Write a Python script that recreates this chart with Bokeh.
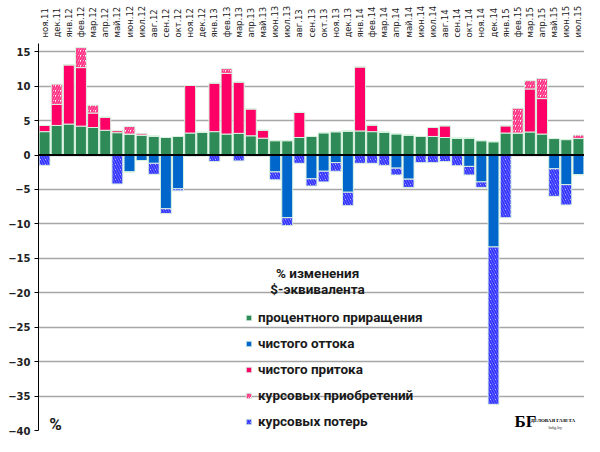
import numpy as np
from bokeh.plotting import figure
from bokeh.models import Range1d, Span, Label, Legend, LegendItem, FixedTicker
from bokeh.embed import file_html
from bokeh.resources import INLINE

months = ["ноя.11", "дек.11", "янв.12", "фев.12", "мар.12", "апр.12", "май.12", "июн.12",
          "июл.12", "авг.12", "сен.12", "окт.12", "ноя.12", "дек.12", "янв.13", "фев.13",
          "мар.13", "апр.13", "май.13", "июн.13", "июл.13", "авг.13", "сен.13", "окт.13",
          "ноя.13", "дек.13", "янв.14", "фев.14", "мар.14", "апр.14", "май.14", "июн.14",
          "июл.14", "авг.14", "сен.14", "окт.14", "ноя.14", "дек.14", "янв.15", "фев.15",
          "мар.15", "апр.15", "май.15", "июн.15", "июл.15"]

# процентное приращение
interest = [3.4, 4.3, 4.5, 4.2, 4.0, 3.6, 3.25, 3.05, 2.9, 2.75, 2.55, 2.7, 3.2, 3.3, 3.4,
            3.05, 3.15, 2.8, 2.45, 2.1, 2.1, 2.55, 2.7, 3.25, 3.4, 3.5, 3.5, 3.4, 3.35,
            3.1, 2.9, 2.7, 2.7, 2.55, 2.45, 2.45, 2.1, 1.95, 3.2, 3.2, 3.35, 3.05, 2.4,
            2.25, 2.4]
# чистый приток
inflow = [0.9, 3.05, 8.6, 8.5, 2.1, 1.9, 0.3, 0, 0, 0, 0, 0, 6.9, 0, 7.05,
          8.8, 7.45, 3.9, 1.15, 0, 0, 3.65, 0, 0, 0, 0, 9.3, 0.95, 0,
          0, 0, 0, 1.3, 1.7, 0, 0, 0, 0, 1.05, 0, 6.25, 5.15, 0,
          0, 0]
# курсовые приобретения
gains = [0, 2.95, 0, 2.9, 1.15, 0, 0, 1.1, 0.25, 0, 0, 0, 0, 0, 0,
         0.7, 0, 0, 0, 0, 0, 0, 0, 0, 0, 0, 0, 0, 0,
         0, 0, 0, 0, 0, 0, 0, 0, 0, 0, 3.6, 1.2, 2.9, 0,
         0, 0.5]
# чистый отток
outflow = [0, 0, 0, 0, 0, 0, 0, 2.45, 0.8, 1.2, 7.8, 4.9, 0, 0, 0,
           0, 0, 0, 0, 2.45, 9.1, 0, 3.45, 2.35, 1.1, 5.4, 0, 0, 0,
           1.9, 3.5, 0, 0, 0, 0, 1.65, 3.9, 13.35, 0, 0, 0, 0, 2.0,
           4.3, 2.85]
# курсовые потери
losses = [1.5, 0, 0, 0, 0, 0.2, 4.2, 0, 0, 1.6, 0.7, 0.3, 0.2, 0, 0.95,
          0, 0.85, 0, 0, 1.15, 1.15, 1.2, 1.05, 1.55, 1.25, 1.95, 1.2, 1.2, 1.5,
          1.0, 1.2, 1.1, 1.1, 0.95, 1.55, 1.25, 0.8, 22.85, 9.1, 0, 0, 0, 4.0,
          2.95, 0]

GREEN = "#2e8b57"
BLUE = "#0066cc"
PINK = "#ff0066"
PINK_H = "#ff3385"
BLUE_H = "#3333ff"
EDGE = "#d9f2e0"

x = np.arange(len(months))
g = np.array(interest)
pi_ = g + np.array(inflow)
pg = pi_ + np.array(gains)
no = -np.array(outflow)
nl = no - np.array(losses)

p = figure(width=584, height=436, x_range=Range1d(-0.5, len(months) - 0.5),
           y_range=Range1d(-40, 16.2), x_axis_location="above",
           output_backend="svg", toolbar_location=None,
           min_border_left=38, min_border_right=0, min_border_top=43, min_border_bottom=6)
p.outline_line_color = None
p.background_fill_color = "white"

w = 0.9
r_green = p.vbar(x=x, bottom=0, top=g, width=w, fill_color=GREEN, line_color=EDGE)
r_in = p.vbar(x=x, bottom=g, top=pi_, width=w, fill_color=PINK, line_color=EDGE)
r_gain = p.vbar(x=x, bottom=pi_, top=pg, width=w, fill_color="white", line_color=EDGE,
                hatch_pattern="/", hatch_color=PINK_H, hatch_scale=5, hatch_weight=2)
r_out = p.vbar(x=x, bottom=no, top=0, width=w, fill_color=BLUE, line_color=EDGE)
r_loss = p.vbar(x=x, bottom=nl, top=no, width=w, fill_color="white", line_color=EDGE,
                hatch_pattern="\\", hatch_color=BLUE_H, hatch_scale=5, hatch_weight=2)

p.add_layout(Span(location=0, dimension="width", line_color="black", line_width=2))

# axes
xa = p.xaxis[0]
xa.ticker = FixedTicker(ticks=list(x))
xa.major_label_overrides = {int(i): m for i, m in zip(x, months)}
xa.major_label_orientation = "vertical"
xa.major_label_text_font = "DejaVu Sans"
xa.major_label_text_font_size = "8.5px"
xa.major_label_text_color = "#222222"
xa.major_label_standoff = 0
xa.axis_line_color = None
xa.major_tick_line_color = None
xa.minor_tick_line_color = None

ya = p.yaxis[0]
ya.ticker = FixedTicker(ticks=list(range(-40, 16, 5)))
ya.major_label_text_font = "DejaVu Sans"
ya.major_label_text_font_style = "bold"
ya.major_label_text_font_size = "10px"
ya.major_label_text_color = "#222222"
ya.major_label_standoff = 4
ya.major_tick_out = 4
ya.major_tick_in = 0
ya.minor_tick_line_color = None
ya.axis_line_color = "black"
ya.major_tick_line_color = "black"

p.xgrid.grid_line_color = None
p.ygrid.grid_line_color = "#a6a6a6"
p.ygrid.grid_line_width = 1.5

# legend
legend = Legend(items=[
    LegendItem(label="процентного приращения", renderers=[r_green]),
    LegendItem(label="чистого оттока", renderers=[r_out]),
    LegendItem(label="чистого притока", renderers=[r_in]),
    LegendItem(label="курсовых приобретений", renderers=[r_gain]),
    LegendItem(label="курсовых потерь", renderers=[r_loss]),
], location=(207, 1))
legend.background_fill_alpha = 0
legend.border_line_color = None
legend.padding = 0
legend.margin = 0
legend.spacing = 10
legend.label_height = 14
legend.glyph_height = 7
legend.glyph_width = 7
legend.label_standoff = 6
legend.label_text_font = "Roboto"
legend.label_text_font_style = "bold"
legend.label_text_font_size = "13.5px"
legend.label_text_color = "#1a1a1a"
p.add_layout(legend)

title_font = dict(text_font="Roboto", text_font_style="bold", text_font_size="13.5px",
                  text_color="#1a1a1a", text_align="center", text_baseline="middle")
p.add_layout(Label(x=22.5, y=-17.06, text="% изменения", **title_font))
p.add_layout(Label(x=22.5, y=-19.52, text="$-эквивалента", **title_font))

p.add_layout(Label(x=0.9, y=-39.1, text="%", text_font="Roboto", text_font_style="bold",
                   text_font_size="17px", text_color="#1a1a1a", text_align="center",
                   text_baseline="middle"))

# logo
p.add_layout(Label(x=38.73, y=-38.69, text="БГ", text_font="Liberation Serif",
                   text_font_style="bold", text_font_size="17px", text_color="black",
                   text_align="left", text_baseline="middle"))
p.add_layout(Label(x=40.05, y=-38.55, text="ДЕЛОВАЯ ГАЗЕТА", text_font="Liberation Serif",
                   text_font_style="bold", text_font_size="5px", text_color="black",
                   text_align="left", text_baseline="middle"))
p.add_layout(Label(x=41.53, y=-39.5, text="bdg.by", text_font="Liberation Serif",
                   text_font_size="5px", text_color="#333333",
                   text_align="left", text_baseline="middle"))

open("out.html", "w").write(file_html(p, INLINE))
